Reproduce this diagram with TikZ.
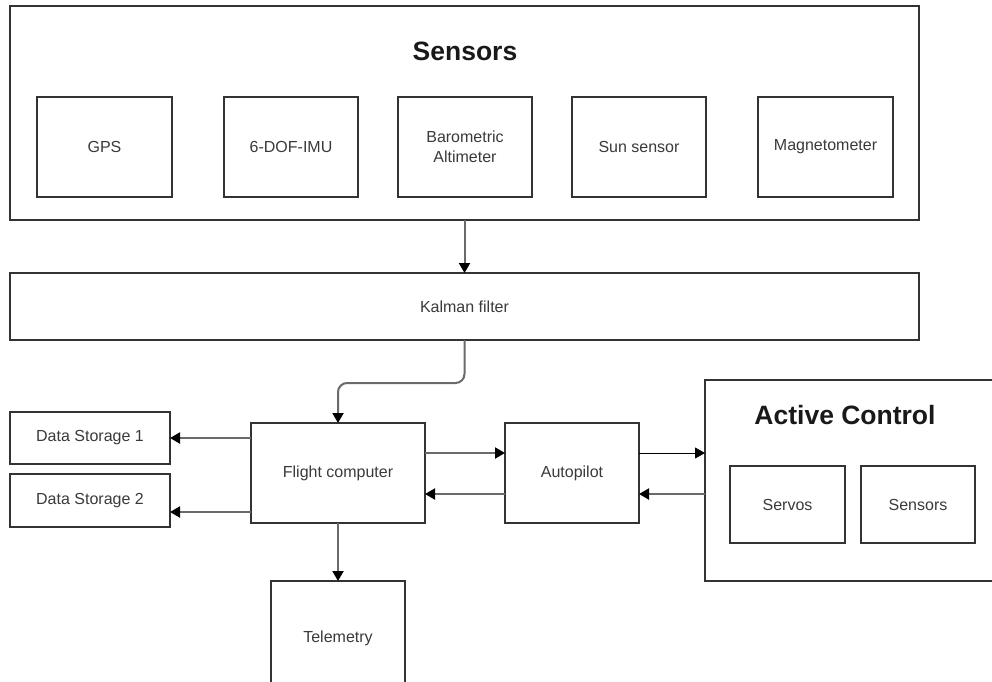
\documentclass[tikz,border=0pt]{standalone}
\usepackage{fontspec}
\setmainfont{Liberation Sans}
\usetikzlibrary{arrows.meta}
\definecolor{edge}{HTML}{333333}
\definecolor{wire}{HTML}{6A6A6A}
\definecolor{txt}{HTML}{3A3A3A}
\tikzset{
  blk/.style={draw=edge, line width=2.2pt, fill=white, inner sep=0pt, outer sep=0pt,
    font=\fontsize{16}{20.5}\selectfont, text=txt, align=center},
  ttl/.style={font=\fontsize{26.5}{30}\selectfont\bfseries, text=black!90, inner sep=0pt},
  conn/.style={draw=wire, line width=2pt, -{Triangle[length=10pt,width=11pt,fill=black,color=black]}},
  thin/.style={draw=black, line width=0.8pt, -{Triangle[length=10pt,width=11pt,fill=black]}}
}
\begin{document}
\begin{tikzpicture}[x=1pt,y=-1pt]
\useasboundingbox (0,0) rectangle (992,681);
\clip (0,0) rectangle (992,681);
\fill[white] (0,0) rectangle (992,681);

% sensor group
\node[blk, minimum width=909pt, minimum height=214pt] (sens) at (464.5,113) {};
\node[ttl] (senst) at (465,51) {Sensors};
\node[blk, minimum width=135pt, minimum height=100pt] (gps) at (104.5,147) {GPS};
\node[blk, minimum width=134pt, minimum height=100pt] (imu) at (291,147) {6-DOF-IMU};
\node[blk, minimum width=134pt, minimum height=100pt] (baro) at (465,147) {Barometric\\Altimeter};
\node[blk, minimum width=134pt, minimum height=100pt] (sun) at (639,147) {Sun sensor};
\node[blk, minimum width=135pt, minimum height=100pt] (mag) at (825.5,147) {Magnetometer};

% filter
\node[blk, minimum width=909pt, minimum height=67pt] (kal) at (464.5,306.5) {Kalman filter};

% processing chain
\node[blk, minimum width=174pt, minimum height=100pt] (fc) at (338,473) {Flight computer};
\node[blk, minimum width=134pt, minimum height=100pt] (ap) at (572,473) {Autopilot};
\node[blk, minimum width=160pt, minimum height=52pt] (ds1) at (90,438) {Data Storage 1};
\node[blk, minimum width=160pt, minimum height=53pt] (ds2) at (90,500.5) {Data Storage 2};
\node[blk, minimum width=134pt, minimum height=115pt] (tel) at (338,638.5) {Telemetry};

% actuation group
\node[blk, minimum width=300pt, minimum height=201pt] (ac) at (855,480.5) {};
\node[ttl] (act) at (845,415) {Active Control};
\node[blk, minimum width=115pt, minimum height=77pt] (servo) at (787.5,504.5) {Servos};
\node[blk, minimum width=114pt, minimum height=77pt] (acsens) at (918,504.5) {Sensors};

% connectors
\draw[conn] (sens.south) -- (sens.south |- kal.north);
\draw[conn, rounded corners=9pt] (kal.south) -- ++(0,43) -| (fc.north);
\draw[conn] ([yshift=20pt]fc.east) -- ([yshift=20pt]fc.east -| ap.west);
\draw[conn] ([yshift=-21pt]ap.west) -- ([yshift=-21pt]ap.west -| fc.east);
\draw[thin] ([yshift=20pt]ap.east) -- ([yshift=20pt]ap.east -| ac.west);
\draw[conn] ([yshift=-21pt]ap.east -| ac.west) -- ([yshift=-21pt]ap.east);
\draw[conn] (fc.west |- ds1.east) -- (ds1.east);
\draw[conn] ([yshift=-39pt]fc.west) -- ([yshift=-39pt]fc.west -| ds2.east);
\draw[conn] (fc.south) -- (tel.north);
\end{tikzpicture}
\end{document}
